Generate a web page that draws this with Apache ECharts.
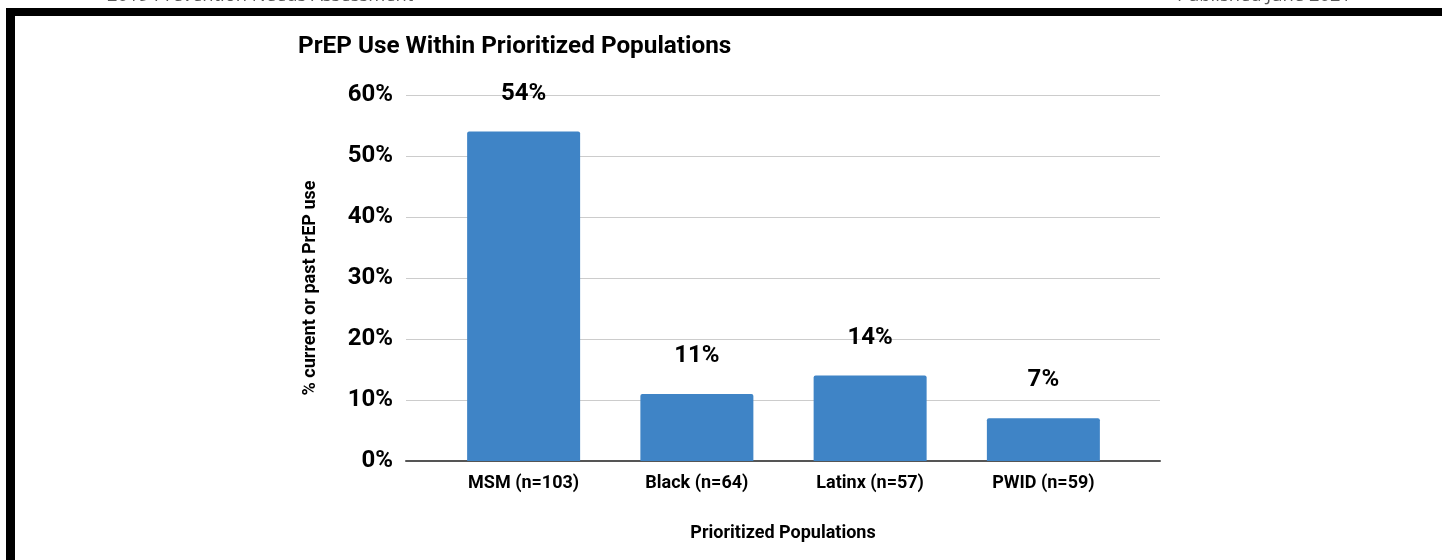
<!DOCTYPE html>
<html>
<head>
<meta charset="utf-8">
<script src="https://cdn.jsdelivr.net/npm/echarts@6/dist/echarts.min.js"></script>
<style>
  html, body { margin: 0; padding: 0; background: #fff; }
  #chart { width: 1442px; height: 560px; }
</style>
</head>
<body>
<div id="chart"></div>
<script>
// PrEP use within prioritized populations
const categories = ['MSM (n=103)', 'Black (n=64)', 'Latinx (n=57)', 'PWID (n=59)'];
const prepUse = [54, 11, 14, 7];
const yTicks = [0, 10, 20, 30, 40, 50, 60];

const chartTitle = 'PrEP Use Within Prioritized Populations';
const yAxisTitle = '% current or past PrEP use';
const xAxisTitle = 'Prioritized Populations';
const headerLeft = '2019 Prevention Needs Assessment';
const headerRight = 'Published June 2021';

const FONT = 'Roboto';
const chart = echarts.init(document.getElementById('chart'), null, { renderer: 'canvas' });

const yMin = yTicks[0];
const yMax = yTicks[yTicks.length - 1];
const yStep = yTicks[1] - yTicks[0];

chart.setOption({
  animation: false,
  backgroundColor: '#ffffff',
  title: {
    text: chartTitle,
    left: 293,
    top: 30,
    textStyle: { fontFamily: FONT, fontSize: 24.3, fontWeight: 'bold', color: '#000' }
  },
  graphic: [
    // page frame
    { type: 'rect', shape: { x: 6, y: 8, width: 1436, height: 8 }, style: { fill: '#000' }, silent: true },
    { type: 'rect', shape: { x: 6, y: 8, width: 9, height: 552 }, style: { fill: '#000' }, silent: true },
    // running header, clipped at the top of the page
    { type: 'text', left: 107, top: -13,
      style: { text: headerLeft, fill: '#595959', font: '18.4px "Open Sans"' }, silent: true },
    { type: 'text', left: 1177, top: -13,
      style: { text: headerRight, fill: '#595959', font: '18.4px "Open Sans"' }, silent: true }
  ],
  grid: [
    // frame grid: gridlines, baseline and axis titles
    { left: 406, right: 282, top: 95, bottom: 99, containLabel: false },
    // bar grid: same vertical scale, narrower category band
    { left: 437, right: 312, top: 95, bottom: 99, containLabel: false }
  ],
  xAxis: [
    {
      type: 'category', gridIndex: 0, data: categories,
      axisLine: { show: true, lineStyle: { color: '#555', width: 2 } },
      axisTick: { show: false },
      axisLabel: { show: false },
      name: xAxisTitle, nameLocation: 'middle', nameGap: 63,
      nameTextStyle: { fontFamily: FONT, fontSize: 18, fontWeight: 'bold', color: '#000' }
    },
    {
      type: 'category', gridIndex: 1, data: categories,
      axisLine: { show: false },
      axisTick: { show: false },
      axisLabel: { fontFamily: FONT, fontSize: 18, fontWeight: 'bold', color: '#000', margin: 13 }
    }
  ],
  yAxis: [
    {
      type: 'value', gridIndex: 0, min: yMin, max: yMax, interval: yStep,
      axisLine: { show: false }, axisTick: { show: false },
      splitLine: { show: true, lineStyle: { color: '#cccccc', width: 1 } },
      axisLabel: { fontFamily: FONT, fontSize: 24, fontWeight: 'bold', color: '#000', margin: 13,
                   padding: [5, 0, 0, 0], formatter: v => v + '%' },
      name: yAxisTitle, nameLocation: 'middle', nameGap: 87, nameRotate: 90,
      nameTextStyle: { fontFamily: FONT, fontSize: 18, fontWeight: 'bold', color: '#000',
                       padding: [0, 20, 0, 0] }
    },
    {
      type: 'value', gridIndex: 1, min: yMin, max: yMax, interval: yStep,
      show: false, splitLine: { show: false }
    }
  ],
  series: [
    {
      type: 'bar', xAxisIndex: 1, yAxisIndex: 1,
      data: prepUse,
      barWidth: 113,
      itemStyle: { color: '#3f84c6', borderRadius: [2, 2, 0, 0] },
      label: {
        show: true, position: 'top', distance: 26,
        fontFamily: FONT, fontSize: 24, fontWeight: 'bold', color: '#000',
        formatter: p => p.value + '%'
      }
    }
  ]
});
</script>
</body>
</html>
